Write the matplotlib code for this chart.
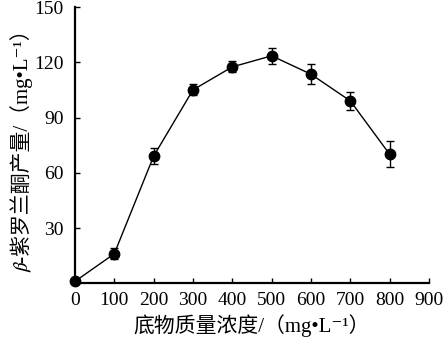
import matplotlib.pyplot as plt
import numpy as np

plt.rcParams['font.family'] = ['Liberation Serif', 'Noto Sans CJK SC', 'STIXGeneral', 'DejaVu Sans']

# 底物质量浓度 vs β-紫罗兰酮产量
conc = [0, 100, 200, 300, 400, 500, 600, 700, 800]
yield_ = [1, 16, 69, 105, 117.5, 123.5, 113.5, 99, 70]
err = [0, 3, 4.5, 3, 3, 4.5, 5.5, 5, 7]

x_ticks = [0, 100, 200, 300, 400, 500, 600, 700, 800, 900]
y_ticks = [30, 60, 90, 120, 150]

fig = plt.figure(figsize=(4.46, 3.51), dpi=100)
ax = fig.add_axes([0.168, 0.193, 0.794, 0.787])

ax.errorbar(conc, yield_, yerr=err, color='black', lw=1.0, marker='o',
            markersize=7.5, capsize=3, elinewidth=1.0, capthick=1.0, clip_on=False, zorder=3)

ax.set_xlim(0, 900)
ax.set_ylim(0, 150)
ax.set_xticks(x_ticks)
ax.set_yticks(y_ticks)
for s in ['top', 'right']:
    ax.spines[s].set_visible(False)
for s in ['left', 'bottom']:
    ax.spines[s].set_linewidth(1.6)
ax.tick_params(direction='in', length=3.5, width=1.0, labelsize=14)
ax.tick_params(axis='y', pad=8)
ax.tick_params(axis='x', pad=6)

ax.set_xlabel('底物质量浓度/（mg•L⁻¹）', fontsize=15, labelpad=4)
ax.set_ylabel('\U0001D6FD-紫罗兰酮产量/（mg•L⁻¹）', fontsize=15, labelpad=1)

plt.savefig('out.png', dpi=100)
